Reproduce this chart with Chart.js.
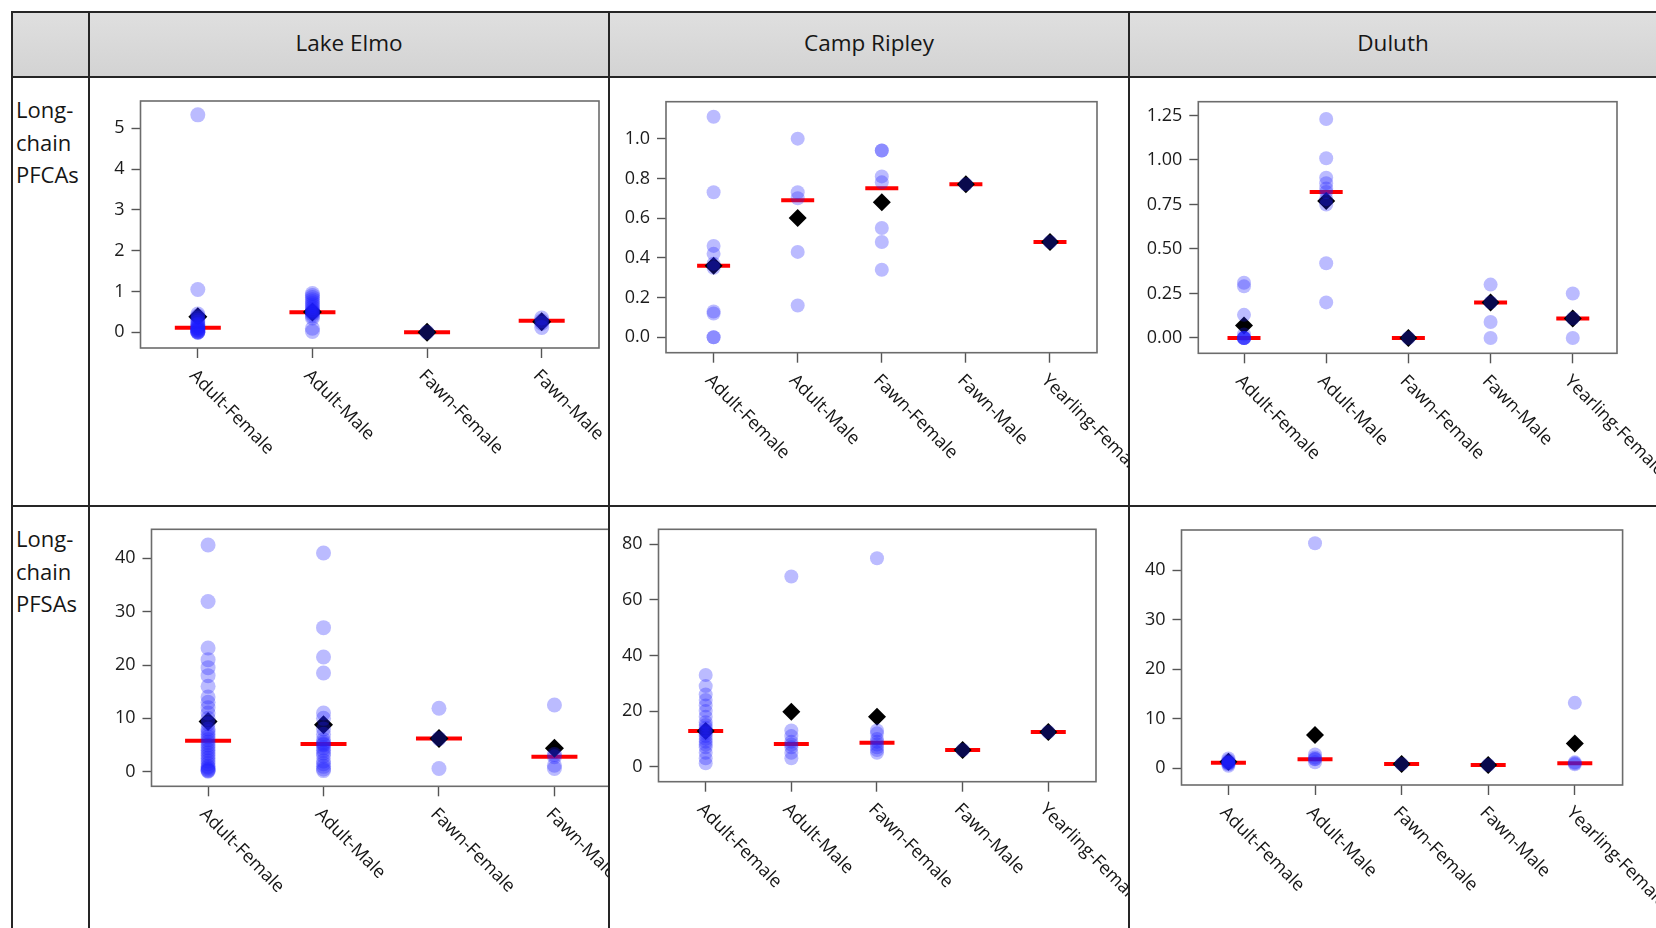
<!DOCTYPE html>
<html>
<head>
<meta charset="utf-8">
<title>Long-chain PFCAs and PFSAs by site and age-sex class</title>
<script src="https://cdn.jsdelivr.net/npm/chart.js@4.4.1/dist/chart.umd.min.js"></script>
<style>
  html, body { margin: 0; padding: 0; background: #ffffff; }
  body { width: 1656px; height: 928px; position: relative; overflow: hidden;
         font-family: 'Open Sans', 'DejaVu Sans', sans-serif; color: #161616; }
  .head { position: absolute; left: 13px; top: 13px; width: 1643px; height: 63px;
          background: linear-gradient(#dfdfdf, #d3d3d3); }
  .rule { position: absolute; background: #262626; }
  .site { position: absolute; top: 26.5px; font-size: 22.5px; line-height: 32.5px; text-align: center; }
  .rowlab { position: absolute; left: 16px; font-size: 22px; line-height: 32.5px; }
  .cell { position: absolute; overflow: hidden; }
  .cell canvas { position: absolute; left: 0; top: 0; }
</style>
</head>
<body>
<div class="head"></div>
<script>
// ---- table headings ----
const siteNames = ['Lake Elmo', 'Camp Ripley', 'Duluth'];
const rowNames = [['Long-', 'chain', 'PFCAs'], ['Long-', 'chain', 'PFSAs']];

// ---- age-sex classes ----
const groupsFour = ['Adult-Female', 'Adult-Male', 'Fawn-Female', 'Fawn-Male'];
const groupsFive = ['Adult-Female', 'Adult-Male', 'Fawn-Female', 'Fawn-Male', 'Yearling-Female'];

// ---- long-chain PFCAs: individual samples, mean, median per class ----
const pfcaLakeElmo = [
  [0, 0, 0.01, 0.02, 0.03, 0.05, 0.06, 0.08, 0.1, 0.11, 0.12, 0.15, 0.18, 0.2, 0.25, 0.3, 0.35, 0.4, 0.45, 1.05, 5.33],
  [0.02, 0.1, 0.35, 0.4, 0.45, 0.48, 0.5, 0.52, 0.55, 0.6, 0.65, 0.7, 0.75, 0.8, 0.85, 0.9, 0.95],
  [0],
  [0.12, 0.22, 0.28, 0.35]
];
const pfcaLakeElmoMean = [0.38, 0.5, 0.0, 0.26];
const pfcaLakeElmoMedian = [0.11, 0.49, 0.0, 0.28];

const pfcaCampRipley = [
  [0, 0, 0.12, 0.13, 0.35, 0.37, 0.42, 0.46, 0.73, 1.11],
  [0.16, 0.43, 0.70, 0.73, 1.0],
  [0.34, 0.48, 0.55, 0.78, 0.81, 0.94, 0.94],
  [0.77],
  [0.48]
];
const pfcaCampRipleyMean = [0.36, 0.60, 0.68, 0.77, 0.48];
const pfcaCampRipleyMedian = [0.36, 0.69, 0.75, 0.77, 0.48];

const pfcaDuluth = [
  [0, 0, 0, 0, 0, 0.02, 0.13, 0.29, 0.31],
  [0.20, 0.42, 0.75, 0.78, 0.82, 0.84, 0.87, 0.90, 1.01, 1.23],
  [0],
  [0.0, 0.09, 0.20, 0.30],
  [0.0, 0.11, 0.25]
];
const pfcaDuluthMean = [0.07, 0.77, 0.0, 0.20, 0.11];
const pfcaDuluthMedian = [0.0, 0.82, 0.0, 0.20, 0.11];

// ---- long-chain PFSAs ----
const pfsaLakeElmo = [
  [0.1, 0.2, 0.3, 0.5, 0.8, 1, 1.5, 2, 2.5, 3, 3.5, 4, 4.5, 5, 5.5, 6, 6.5, 7, 7.5, 8, 9, 10, 11, 12, 13, 14, 16, 18, 19.5, 21, 23.2, 31.9, 42.5],
  [0.2, 0.5, 1, 1.5, 2, 3, 3.5, 4, 4.5, 5, 5.2, 5.5, 6, 7, 8, 10, 11, 18.5, 21.5, 27, 41],
  [0.6, 6.2, 11.9],
  [0.6, 1.2, 2.8, 3.2, 12.5]
];
const pfsaLakeElmoMean = [9.4, 8.8, 6.2, 4.4];
const pfsaLakeElmoMedian = [5.8, 5.2, 6.2, 2.8];

const pfsaCampRipley = [
  [1.2, 3, 5, 7, 8, 9, 10, 11, 12, 12.8, 13, 14, 15, 16, 18, 20, 22, 24, 26, 29, 33],
  [3, 5, 7, 8, 9, 11, 13, 68.4],
  [5, 6, 7, 8, 9, 10, 12, 13, 75],
  [6],
  [12.5]
];
const pfsaCampRipleyMean = [12.8, 19.8, 18.0, 6.0, 12.5];
const pfsaCampRipleyMedian = [12.8, 8.2, 8.6, 6.0, 12.5];

const pfsaDuluth = [
  [0.5, 0.8, 1.0, 1.1, 1.1, 1.2, 1.3, 1.6, 2.0],
  [1.2, 1.8, 1.9, 2.2, 2.8, 45.4],
  [0.87],
  [0.67],
  [0.8, 1.0, 1.2, 13.2]
];
const pfsaDuluthMean = [1.3, 6.7, 0.87, 0.67, 5.0];
const pfsaDuluthMedian = [1.1, 1.8, 0.87, 0.67, 1.0];

// ---- y tick values and their labels ----
const ticksPfcaLakeElmo = [0, 1, 2, 3, 4, 5];
const labelsPfcaLakeElmo = ['0', '1', '2', '3', '4', '5'];
const ticksPfcaCampRipley = [0, 0.2, 0.4, 0.6, 0.8, 1.0];
const labelsPfcaCampRipley = ['0.0', '0.2', '0.4', '0.6', '0.8', '1.0'];
const ticksPfcaDuluth = [0, 0.25, 0.5, 0.75, 1.0, 1.25];
const labelsPfcaDuluth = ['0.00', '0.25', '0.50', '0.75', '1.00', '1.25'];
const ticksPfsaLakeElmo = [0, 10, 20, 30, 40];
const labelsPfsaLakeElmo = ['0', '10', '20', '30', '40'];
const ticksPfsaCampRipley = [0, 20, 40, 60, 80];
const labelsPfsaCampRipley = ['0', '20', '40', '60', '80'];
const ticksPfsaDuluth = [0, 10, 20, 30, 40];
const labelsPfsaDuluth = ['0', '10', '20', '30', '40'];

// ---- table geometry ----
const colBox = [{ left: 90, width: 518 }, { left: 610, width: 518 }, { left: 1130, width: 526 }];
const rowBox = [{ top: 78, height: 427 }, { top: 507, height: 421 }];

// Each panel: data, plot frame in page pixels, axis ranges and mark sizes.
const panels = [
  { row: 0, col: 0, groups: groupsFour, values: pfcaLakeElmo, means: pfcaLakeElmoMean, medians: pfcaLakeElmoMedian,
    ticks: ticksPfcaLakeElmo, tickLabels: labelsPfcaLakeElmo,
    frame: { l: 140.5, t: 101, r: 599, b: 348 }, xr: [-0.5, 3.5], yr: [-0.385, 5.669], dot: 7.5, diamond: 9.5, bar: 23 },
  { row: 0, col: 1, groups: groupsFive, values: pfcaCampRipley, means: pfcaCampRipleyMean, medians: pfcaCampRipleyMedian,
    ticks: ticksPfcaCampRipley, tickLabels: labelsPfcaCampRipley,
    frame: { l: 666, t: 101.7, r: 1097, b: 352.7 }, xr: [-0.566, 4.559], yr: [-0.0775, 1.186], dot: 7, diamond: 9, bar: 16.5 },
  { row: 0, col: 2, groups: groupsFive, values: pfcaDuluth, means: pfcaDuluthMean, medians: pfcaDuluthMedian,
    ticks: ticksPfcaDuluth, tickLabels: labelsPfcaDuluth,
    frame: { l: 1198.3, t: 101.7, r: 1617, b: 353.3 }, xr: [-0.556, 4.538], yr: [-0.086, 1.3275], dot: 7, diamond: 9, bar: 16.5 },
  { row: 1, col: 0, groups: groupsFour, values: pfsaLakeElmo, means: pfsaLakeElmoMean, medians: pfsaLakeElmoMedian,
    ticks: ticksPfsaLakeElmo, tickLabels: labelsPfsaLakeElmo, canvasWidth: 560,
    frame: { l: 151.5, t: 529.3, r: 611, b: 786.3 }, xr: [-0.49, 3.49], yr: [-2.74, 45.44], dot: 7.5, diamond: 9.5, bar: 23 },
  { row: 1, col: 1, groups: groupsFive, values: pfsaCampRipley, means: pfsaCampRipleyMean, medians: pfsaCampRipleyMedian,
    ticks: ticksPfsaCampRipley, tickLabels: labelsPfsaCampRipley,
    frame: { l: 658.5, t: 529.3, r: 1096, b: 781.7 }, xr: [-0.551, 4.557], yr: [-5.4, 85.4], dot: 7, diamond: 9, bar: 17.5 },
  { row: 1, col: 2, groups: groupsFive, values: pfsaDuluth, means: pfsaDuluthMean, medians: pfsaDuluthMedian,
    ticks: ticksPfsaDuluth, tickLabels: labelsPfsaDuluth,
    frame: { l: 1181.5, t: 530, r: 1622.6, b: 785 }, xr: [-0.542, 4.552], yr: [-3.37, 48.07], dot: 7, diamond: 9, bar: 17.5 }
];

// ---- table rules, headings and row labels ----
function addDiv(cls, style, html) {
  const d = document.createElement('div');
  d.className = cls;
  Object.assign(d.style, style);
  if (html !== undefined) d.innerHTML = html;
  document.body.appendChild(d);
  return d;
}
siteNames.forEach((name, i) => {
  addDiv('site', { left: colBox[i].left + 'px', width: colBox[i].width + 'px' }, name);
});
rowNames.forEach((lines, i) => {
  addDiv('rowlab', { top: (rowBox[i].top + 15) + 'px' }, lines.join('<br>'));
});
[11, 76, 505].forEach(y => addDiv('rule', { left: '11px', top: y + 'px', width: '1645px', height: '2px' }));
[11, 88, 608, 1128].forEach(x => addDiv('rule', { left: x + 'px', top: '11px', width: '2px', height: '917px' }));

// ---- chart plugins: plot frame and slanted class labels ----
const framePlugin = {
  id: 'plotFrame',
  beforeDatasetsDraw(chart) {
    const { ctx, chartArea: a } = chart;
    ctx.save();
    ctx.strokeStyle = '#6c6c6c';
    ctx.lineWidth = 1.6;
    ctx.strokeRect(a.left, a.top, a.right - a.left, a.bottom - a.top);
    ctx.restore();
  }
};
const slantLabelPlugin = {
  id: 'slantLabels',
  afterDraw(chart, args, opts) {
    const { ctx, chartArea: a } = chart;
    const xs = chart.scales.x;
    ctx.save();
    ctx.font = '18px "Open Sans"';
    ctx.fillStyle = '#141414';
    ctx.textAlign = 'left';
    ctx.textBaseline = 'middle';
    opts.labels.forEach((text, i) => {
      const px = xs.getPixelForValue(i);
      ctx.save();
      ctx.translate(px - 5.5, a.bottom + 25);
      ctx.rotate(Math.PI / 4);
      ctx.fillText(text, 0, 0);
      ctx.restore();
    });
    ctx.restore();
  }
};

function buildPanel(p) {
  const cb = colBox[p.col], rb = rowBox[p.row];
  const cell = addDiv('cell', { left: cb.left + 'px', top: rb.top + 'px', width: cb.width + 'px', height: rb.height + 'px' });
  const cw = p.canvasWidth || cb.width, ch = rb.height;
  const cv = document.createElement('canvas');
  cv.width = cw; cv.height = ch;
  cv.style.width = cw + 'px'; cv.style.height = ch + 'px';
  cell.appendChild(cv);

  const f = p.frame;
  const yAxisWidth = f.l - cb.left;
  const xAxisHeight = rb.top + ch - f.b;
  const padTop = f.t - rb.top;
  const padRight = cb.left + cw - f.r;

  const samples = [];
  p.values.forEach((arr, i) => arr.forEach(v => samples.push({ x: i, y: v })));
  const meanPts = p.means.map((v, i) => ({ x: i, y: v }));
  const medianPts = p.medians.map((v, i) => ({ x: i, y: v }));

  const tickGrid = { display: true, drawOnChartArea: false, drawTicks: true, tickColor: '#555555', tickWidth: 1.4 };

  new Chart(cv.getContext('2d'), {
    type: 'scatter',
    data: {
      datasets: [
        { label: 'Sample', data: samples, order: 0, pointStyle: 'circle',
          pointRadius: p.dot, pointHoverRadius: p.dot,
          pointBackgroundColor: 'rgba(30,30,255,0.3)', pointBorderWidth: 0 },
        { label: 'Mean', data: meanPts, order: 1, pointStyle: 'rectRot',
          pointRadius: p.diamond, pointHoverRadius: p.diamond,
          pointBackgroundColor: '#000000', pointBorderWidth: 0 },
        { label: 'Median', data: medianPts, order: 2, pointStyle: 'line',
          pointRadius: p.bar, pointHoverRadius: p.bar,
          pointBorderColor: '#ff0000', pointBackgroundColor: '#ff0000', pointBorderWidth: 4 }
      ]
    },
    options: {
      responsive: false,
      animation: false,
      devicePixelRatio: 1,
      events: [],
      layout: { autoPadding: false, padding: { left: 0, top: padTop, right: padRight, bottom: 0 } },
      plugins: {
        legend: { display: false },
        tooltip: { enabled: false },
        slantLabels: { labels: p.groups }
      },
      scales: {
        x: {
          type: 'linear', position: 'bottom', min: p.xr[0], max: p.xr[1],
          afterBuildTicks(s) { s.ticks = p.groups.map((g, i) => ({ value: i })); },
          afterFit(s) { s.height = xAxisHeight; },
          ticks: { display: false },
          grid: Object.assign({ tickLength: 10 }, tickGrid),
          border: { display: false }
        },
        y: {
          type: 'linear', position: 'left', min: p.yr[0], max: p.yr[1],
          afterBuildTicks(s) { s.ticks = p.ticks.map(v => ({ value: v })); },
          afterFit(s) { s.width = yAxisWidth; },
          ticks: {
            autoSkip: false, padding: 7, color: '#1c1c1c',
            font: { family: 'Open Sans', size: 18 },
            callback: (v, i) => p.tickLabels[i]
          },
          grid: Object.assign({ tickLength: 9 }, tickGrid),
          border: { display: false }
        }
      }
    },
    plugins: [framePlugin, slantLabelPlugin]
  });
}

panels.forEach(buildPanel);
</script>
</body>
</html>
